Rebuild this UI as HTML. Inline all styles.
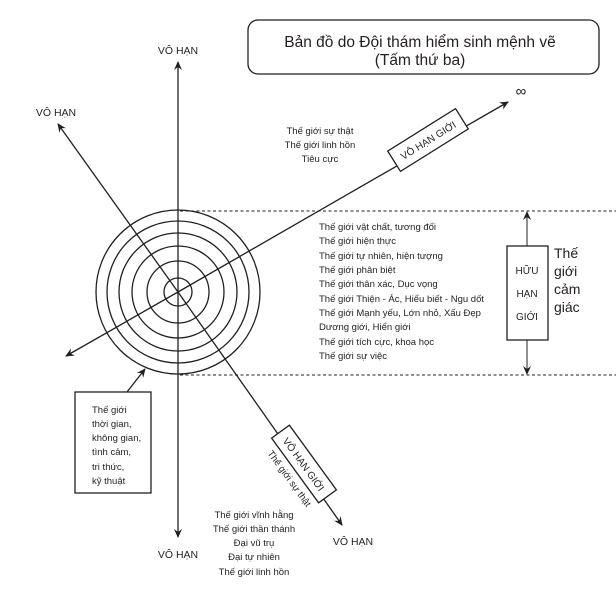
<!DOCTYPE html>
<html><head><meta charset="utf-8"><style>
html,body{margin:0;padding:0;background:#fff}
svg{display:block}
text{font-family:"Liberation Sans",sans-serif;fill:#231f20}
</style></head><body>
<svg width="616" height="597" viewBox="0 0 616 597" xmlns="http://www.w3.org/2000/svg">
<defs>
<marker id="a" markerWidth="10" markerHeight="10" refX="8" refY="5" orient="auto" markerUnits="userSpaceOnUse">
<path d="M0,1 L9,5 L0,9 L3,5 Z" fill="#231f20"/>
</marker>
</defs>
<g stroke="#231f20" fill="none" stroke-width="1.3">
<rect x="248" y="20" width="351" height="54" rx="10"/>
<line x1="180" y1="211" x2="616" y2="211" stroke-dasharray="3,2.5" stroke-width="1"/>
<line x1="180" y1="375" x2="616" y2="375" stroke-dasharray="3,2.5" stroke-width="1"/>
<circle cx="178" cy="292" r="82"/>
<circle cx="178" cy="292" r="71"/>
<circle cx="178" cy="292" r="59"/>
<circle cx="178" cy="292" r="46"/>
<circle cx="178" cy="292" r="31"/>
<circle cx="178" cy="292" r="14"/>
<line x1="178" y1="292" x2="178" y2="62" marker-end="url(#a)"/>
<line x1="178" y1="292" x2="178" y2="537" marker-end="url(#a)"/>
<line x1="178" y1="292" x2="58" y2="124" marker-end="url(#a)"/>
<line x1="178" y1="292" x2="342" y2="525" marker-end="url(#a)"/>
<line x1="178" y1="292" x2="66" y2="356" marker-end="url(#a)"/>
<line x1="178" y1="292" x2="508" y2="102" marker-end="url(#a)"/>
<rect x="507" y="246" width="41" height="94" fill="#fff"/>
<line x1="527" y1="246" x2="527" y2="212" marker-end="url(#a)" stroke-width="1"/>
<line x1="527" y1="340" x2="527" y2="374" marker-end="url(#a)" stroke-width="1"/>
<rect x="75" y="392" width="76" height="101" fill="#fff"/>
<line x1="127" y1="392" x2="145" y2="369" marker-end="url(#a)"/>
<g transform="translate(428,140) rotate(-32)"><rect x="-40" y="-12" width="80" height="24" fill="#fff"/></g>
<g transform="translate(304,464) rotate(54)"><rect x="-40" y="-11" width="80" height="22" fill="#fff"/></g>
</g>
<text x="420" y="47" font-size="15.5" text-anchor="middle">Bản đồ do Đội thám hiểm sinh mệnh vẽ</text>
<text x="420" y="65" font-size="15.5" text-anchor="middle">(Tấm thứ ba)</text>
<g font-size="10.5" text-anchor="middle">
<text x="178" y="54">VÔ HẠN</text>
<text x="56" y="116">VÔ HẠN</text>
<text x="178" y="558">VÔ HẠN</text>
<text x="353" y="545">VÔ HẠN</text>
</g>
<text x="521" y="96" font-size="15" text-anchor="middle">∞</text>
<g font-size="9.5" text-anchor="middle">
<text x="320" y="134">Thế giới sự thật</text>
<text x="320" y="148">Thế giới linh hồn</text>
<text x="320" y="162">Tiêu cực</text>
<text x="254" y="518">Thế giới vĩnh hằng</text>
<text x="254" y="532">Thế giới thần thánh</text>
<text x="254" y="546">Đại vũ trụ</text>
<text x="254" y="560">Đại tự nhiên</text>
<text x="254" y="575">Thế giới linh hồn</text>
</g>
<g font-size="9.5">
<text x="319" y="230">Thế giới vật chất, tương đối</text>
<text x="319" y="244">Thế giới hiện thực</text>
<text x="319" y="259">Thế giới tự nhiên, hiện tượng</text>
<text x="319" y="273">Thế giới phân biệt</text>
<text x="319" y="287">Thế giới thân xác, Dục vọng</text>
<text x="319" y="302">Thế giới Thiện - Ác, Hiểu biết - Ngu dốt</text>
<text x="319" y="316">Thế giới Mạnh yếu, Lớn nhỏ, Xấu Đẹp</text>
<text x="319" y="330">Dương giới, Hiển giới</text>
<text x="319" y="345">Thế giới tích cực, khoa học</text>
<text x="319" y="359">Thế giới sự việc</text>
<text x="92" y="413">Thế giới</text>
<text x="92" y="427">thời gian,</text>
<text x="92" y="441">không gian,</text>
<text x="92" y="455">tình cảm,</text>
<text x="92" y="470">tri thức,</text>
<text x="92" y="484">kỹ thuật</text>
</g>
<g font-size="10" text-anchor="middle">
<text x="527" y="274">HỮU</text>
<text x="527" y="297">HẠN</text>
<text x="527" y="320">GIỚI</text>
</g>
<g font-size="14">
<text x="554" y="258">Thế</text>
<text x="554" y="276">giới</text>
<text x="554" y="294">cảm</text>
<text x="554" y="312">giác</text>
</g>
<text transform="translate(428,140) rotate(-32)" x="0" y="4" font-size="10" text-anchor="middle">VÔ HẠN GIỚI</text>
<text transform="translate(304,464) rotate(54)" x="0" y="4" font-size="10" text-anchor="middle">VÔ HẠN GIỚI</text>
<text transform="translate(290,478) rotate(54)" x="0" y="4" font-size="9.5" text-anchor="middle">Thế giới sự thật</text>
</svg>
</body></html>
